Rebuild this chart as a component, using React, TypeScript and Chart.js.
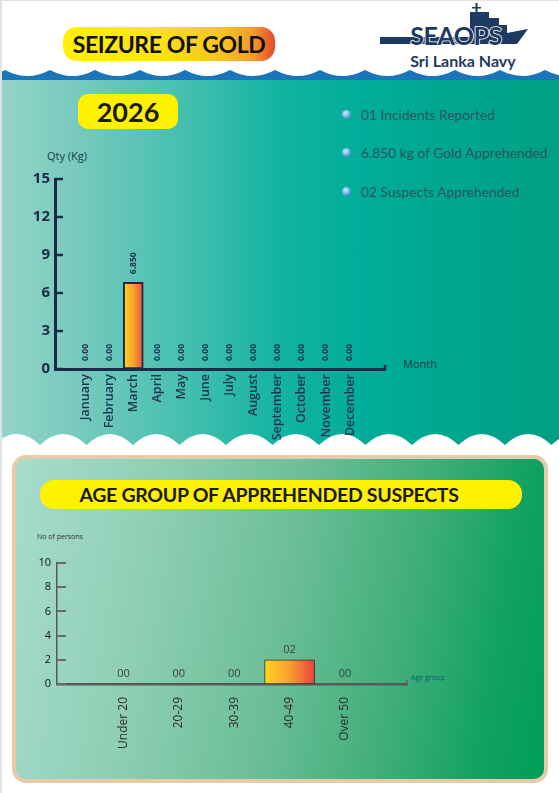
import React, { useEffect, useRef } from "react";
import { Chart, registerables } from "chart.js";

Chart.register(...registerables);

// ---------- data ----------
const months = ["January", "February", "March", "April", "May", "June", "July", "August", "September", "October", "November", "December"];
const goldQty = [0, 0, 6.85, 0, 0, 0, 0, 0, 0, 0, 0, 0];
const qtyMax = 15;
const qtyStep = 3;

const ageGroups = ["Under 20", "20-29", "30-39", "40-49", "Over 50"];
const suspects = [0, 0, 0, 2, 0];
const personsMax = 10;
const personsStep = 2;

const summaryLines = ["01 Incidents Reported", "6.850 kg of Gold Apprehended", "02 Suspects Apprehended"];
const yearLabel = "2026";

// ---------- helpers ----------
const barGradient = (stops: [number, string][], half: number) => (c: any) => {
  const xs = c.chart && c.chart.scales ? c.chart.scales.x : null;
  if (c.type !== "data" || !xs || !c.raw) return stops[0][1];
  const px = xs.getPixelForValue(c.raw.x);
  if (!isFinite(px)) return stops[0][1];
  const g = c.chart.ctx.createLinearGradient(px - half, 0, px + half, 0);
  stops.forEach(([o, col]) => g.addColorStop(o, col));
  return g;
};

const inwardTicks = (color: string, width: number, length: number, endTick: number) => ({
  id: "inwardTicks",
  afterDraw(chart: any) {
    const { ctx, chartArea } = chart;
    const y = chart.scales.y;
    ctx.save();
    ctx.strokeStyle = color;
    ctx.lineWidth = width;
    y.ticks.forEach((t: any) => {
      const py = Math.round(y.getPixelForValue(t.value));
      ctx.beginPath();
      ctx.moveTo(chartArea.left, py);
      ctx.lineTo(chartArea.left + length, py);
      ctx.stroke();
    });
    ctx.beginPath();
    ctx.moveTo(chartArea.right, chartArea.bottom);
    ctx.lineTo(chartArea.right, chartArea.bottom - endTick);
    ctx.stroke();
    ctx.restore();
  },
});

const valueLabels = (font: string, color: string, offset: number, rotate: boolean, fmt: (v: number) => string) => ({
  id: "valueLabels",
  afterDatasetsDraw(chart: any) {
    const { ctx } = chart;
    const meta = chart.getDatasetMeta(0);
    const data = chart.data.datasets[0].data;
    ctx.save();
    ctx.font = font;
    ctx.fillStyle = color;
    meta.data.forEach((bar: any, i: number) => {
      const text = fmt(data[i].y);
      if (rotate) {
        ctx.save();
        ctx.translate(bar.x, bar.y - offset);
        ctx.rotate(-Math.PI / 2);
        ctx.textAlign = "left";
        ctx.textBaseline = "middle";
        ctx.fillText(text, 0, 0);
        ctx.restore();
      } else {
        ctx.textAlign = "center";
        ctx.textBaseline = "middle";
        ctx.fillText(text, bar.x, bar.y - offset);
      }
    });
    ctx.restore();
  },
});

const NAVY = "#1b2b47";

export default function App() {
  const c1 = useRef<HTMLCanvasElement>(null);
  const c2 = useRef<HTMLCanvasElement>(null);

  useEffect(() => {
    document.body.style.margin = "0";
    const ch1 = new Chart(c1.current as HTMLCanvasElement, {
      type: "bar",
      data: {
        datasets: [
          {
            data: months.map((_, i) => ({ x: i, y: goldQty[i] })) as any,
            backgroundColor: barGradient([[0, "#ffd61c"], [0.5, "#f7a52c"], [1, "#e9503a"]], 10) as any,
            borderColor: NAVY,
            borderWidth: 2,
            borderSkipped: false,
            barThickness: 20,
          },
        ],
      },
      options: {
        responsive: false,
        animation: false,
        layout: { padding: { top: 29, right: 55, left: 0, bottom: 0 } },
        plugins: { legend: { display: false }, tooltip: { enabled: false } },
        scales: {
          x: {
            type: "linear",
            min: -1.25,
            max: 12.45,
            offset: false,
            grid: { display: false, drawTicks: false },
            border: { display: true, color: NAVY, width: 3 },
            afterBuildTicks: (s: any) => {
              s.ticks = months.map((_, i) => ({ value: i }));
            },
            afterFit: (s: any) => {
              s.height = 81;
            },
            ticks: {
              autoSkip: false,
              minRotation: 90,
              maxRotation: 90,
              padding: 5,
              color: "#1b3350",
              font: { family: "Open Sans", size: 12.5, weight: "600" },
              callback: (v: any) => months[v] ?? "",
            },
          },
          y: {
            min: 0,
            max: qtyMax,
            grid: { display: false, drawTicks: false },
            border: { display: true, color: NAVY, width: 3 },
            afterFit: (s: any) => {
              s.width = 55;
            },
            ticks: {
              stepSize: qtyStep,
              padding: 5,
              color: NAVY,
              font: { family: "Open Sans", size: 15, weight: "bold" },
            },
          },
        },
      } as any,
      plugins: [
        inwardTicks(NAVY, 2.5, 8, 4),
        valueLabels("bold 8.5px 'Open Sans'", "#1b3350", 8, true, (v) => v.toFixed(v === 0 ? 2 : 3)),
      ],
    });

    const ch2 = new Chart(c2.current as HTMLCanvasElement, {
      type: "bar",
      data: {
        datasets: [
          {
            data: ageGroups.map((_, i) => ({ x: i, y: suspects[i] })) as any,
            backgroundColor: barGradient([[0, "#ffd51a"], [0.5, "#f6a02e"], [1, "#e8423a"]], 25) as any,
            borderColor: "#333333",
            borderWidth: 1,
            borderSkipped: false,
            barThickness: 50,
          },
        ],
      },
      options: {
        responsive: false,
        animation: false,
        layout: { padding: { top: 23, right: 33, left: 0, bottom: 0 } },
        plugins: { legend: { display: false }, tooltip: { enabled: false } },
        scales: {
          x: {
            type: "linear",
            min: -1.2,
            max: 5.12,
            offset: false,
            grid: { display: false, drawTicks: false },
            border: { display: true, color: "#555a58", width: 2.5 },
            afterBuildTicks: (s: any) => {
              s.ticks = ageGroups.map((_, i) => ({ value: i }));
            },
            afterFit: (s: any) => {
              s.height = 96;
            },
            ticks: {
              autoSkip: false,
              minRotation: 90,
              maxRotation: 90,
              padding: 13,
              color: "#2a2a2a",
              font: { family: "Open Sans", size: 12 },
              callback: (v: any) => ageGroups[v] ?? "",
            },
          },
          y: {
            min: 0,
            max: personsMax,
            grid: { display: false, drawTicks: false },
            border: { display: true, color: "#555a58", width: 1.5 },
            afterFit: (s: any) => {
              s.width = 57;
            },
            ticks: {
              stepSize: personsStep,
              padding: 6,
              color: "#111111",
              font: { family: "Open Sans", size: 11 },
            },
          },
        },
      } as any,
      plugins: [
        inwardTicks("#666b69", 2, 9, 4),
        valueLabels("11px 'Open Sans'", "#3a3f3d", 10, false, (v) => String(v).padStart(2, "0")),
      ],
    });

    return () => {
      ch1.destroy();
      ch2.destroy();
    };
  }, []);

  // wave paths
  let topWave = "M -40 0 L -40 70";
  for (let k = -1; k <= 12; k++) {
    const x0 = 5 + 45 * k;
    topWave += ` Q ${x0 + 22.5} 82 ${x0 + 45} 70`;
  }
  topWave += " L 600 70 L 600 0 Z";

  let botWave = "M -53 45 L -53 25";
  for (let k = -1; k <= 12; k++) {
    const x0 = -6.5 + 46.5 * k;
    botWave += ` Q ${x0 + 23.25} 3 ${x0 + 46.5} 25`;
  }
  botWave += " L 610 25 L 610 45 Z";

  const abs = (s: React.CSSProperties): React.CSSProperties => ({ position: "absolute", ...s });

  return (
    <div
      style={abs({
        left: 0,
        top: 0,
        width: 559,
        height: 793,
        background: "#ffffff",
        overflow: "hidden",
        fontFamily: "Lato, 'Open Sans', sans-serif",
      })}
    >
      {/* teal band */}
      <div
        style={abs({
          left: 0,
          top: 78,
          width: 559,
          height: 372,
          background:
            "linear-gradient(90deg, #96d4c8 0%, #6cc8ba 18%, #3dbdad 36%, #12b3a1 50%, #00ad9a 65%, #00a68e 82%, #009f83 100%)",
        })}
      />
      {/* top waves */}
      <svg style={abs({ left: 0, top: 0 })} width={559} height={90}>
        <rect x={0} y={60} width={559} height={20} fill="#1b75b9" />
        <path d={topWave} fill="#ffffff" />
      </svg>
      {/* bottom waves */}
      <svg style={abs({ left: 0, top: 420 })} width={559} height={45}>
        <path d={botWave} fill="#ffffff" />
      </svg>
      {/* page edge */}
      <div style={abs({ left: 0, top: 0, width: 2, height: 793, background: "#e2e2e2" })} />
      <div style={abs({ left: 0, top: 0, width: 559, height: 1, background: "#e2e2e2" })} />

      {/* title pill */}
      <div
        style={abs({
          left: 63,
          top: 27,
          width: 212,
          height: 34,
          borderRadius: 14,
          background: "linear-gradient(90deg, #fff200 0%, #fbe21a 45%, #f7c322 75%, #f29a2a 90%, #e6492f 100%)",
          display: "flex",
          alignItems: "center",
          justifyContent: "center",
          fontWeight: 700,
          fontSize: 23,
          color: "#111",
          letterSpacing: -0.4,
        })}
      >
        SEIZURE OF GOLD
      </div>

      {/* logo */}
      <svg style={abs({ left: 340, top: 0 })} width={200} height={80} viewBox="340 0 200 80">
        <path
          d="M380 37 L470 37 L470 12 L489 12 L489 18 L499 18 L499 25 L507 25 L507 33 L528 29 L517 44 L380 44 Z"
          fill="#1d3a63"
        />
        <rect x={475.5} y={3} width={2} height={10} fill="#1d3a63" />
        <rect x={472} y={7} width={9} height={1.5} fill="#1d3a63" />
        <text
          x={456}
          y={45}
          textAnchor="middle"
          fontFamily="Lato"
          fontWeight={700}
          fontSize={25}
          fill="#1d3a63"
          stroke="#ffffff"
          strokeWidth={1.6}
          paintOrder="stroke"
          letterSpacing={-0.5}
        >
          SEAOPS
        </text>
        <text x={463} y={67} textAnchor="middle" fontFamily="Lato" fontWeight={700} fontSize={16} fill="#1d3a63">
          Sri Lanka Navy
        </text>
      </svg>

      {/* year pill */}
      <div
        style={abs({
          left: 78,
          top: 94,
          width: 100,
          height: 35,
          borderRadius: 10,
          background: "#fff200",
          display: "flex",
          alignItems: "center",
          justifyContent: "center",
          fontWeight: 700,
          fontSize: 27,
          color: "#1a1a1a",
        })}
      >
        {yearLabel}
      </div>

      {/* summary bullets */}
      {summaryLines.map((t, i) => (
        <div key={t} style={abs({ left: 342, top: [104, 142, 181][i], height: 20, display: "flex", alignItems: "center" })}>
          <div
            style={{
              width: 9,
              height: 9,
              borderRadius: "50%",
              background: "radial-gradient(circle at 40% 35%, #d8f1ff 0%, #6fb8e6 45%, #1f6fa8 100%)",
              marginRight: 10,
            }}
          />
          <span style={{ fontSize: 13.8, color: "#2a5560", fontWeight: 400 }}>{t}</span>
        </div>
      ))}

      {/* chart 1 labels */}
      <div style={abs({ left: 47, top: 148, fontSize: 11, color: "#1c3a4e", fontFamily: "'Open Sans'" })}>Qty (Kg)</div>
      <div style={abs({ left: 403, top: 356, fontSize: 11, color: "#1c3a4e", fontFamily: "'Open Sans'" })}>Month</div>
      <canvas ref={c1} width={440} height={300} style={abs({ left: 0, top: 150, width: 440, height: 300 })} />

      {/* panel */}
      <div
        style={abs({
          left: 12,
          top: 455,
          width: 536,
          height: 328,
          boxSizing: "border-box",
          border: "4px solid #e6cba8",
          borderRadius: 14,
          background:
            "linear-gradient(100deg, #a7dccd 0%, #8fcfb5 25%, #6cbe98 50%, #3fae78 72%, #12a263 88%, #009d5a 100%)",
        })}
      />
      <div
        style={abs({
          left: 40,
          top: 480,
          width: 482,
          height: 29,
          borderRadius: 14,
          background: "#fff200",
          display: "flex",
          alignItems: "center",
          justifyContent: "center",
          boxSizing: "border-box",
          paddingRight: 24,
          fontWeight: 700,
          fontSize: 19.5,
          color: "#1a1a1a",
          letterSpacing: -0.3,
        })}
      >
        AGE GROUP OF APPREHENDED SUSPECTS
      </div>
      <div style={abs({ left: 37, top: 532, fontSize: 7, color: "#333", fontFamily: "'Open Sans'" })}>No of persons</div>
      <div style={abs({ left: 411, top: 673, fontSize: 7, color: "#0b5c78", fontFamily: "'Open Sans'" })}>Age group</div>
      <canvas ref={c2} width={440} height={240} style={abs({ left: 0, top: 540, width: 440, height: 240 })} />
    </div>
  );
}
